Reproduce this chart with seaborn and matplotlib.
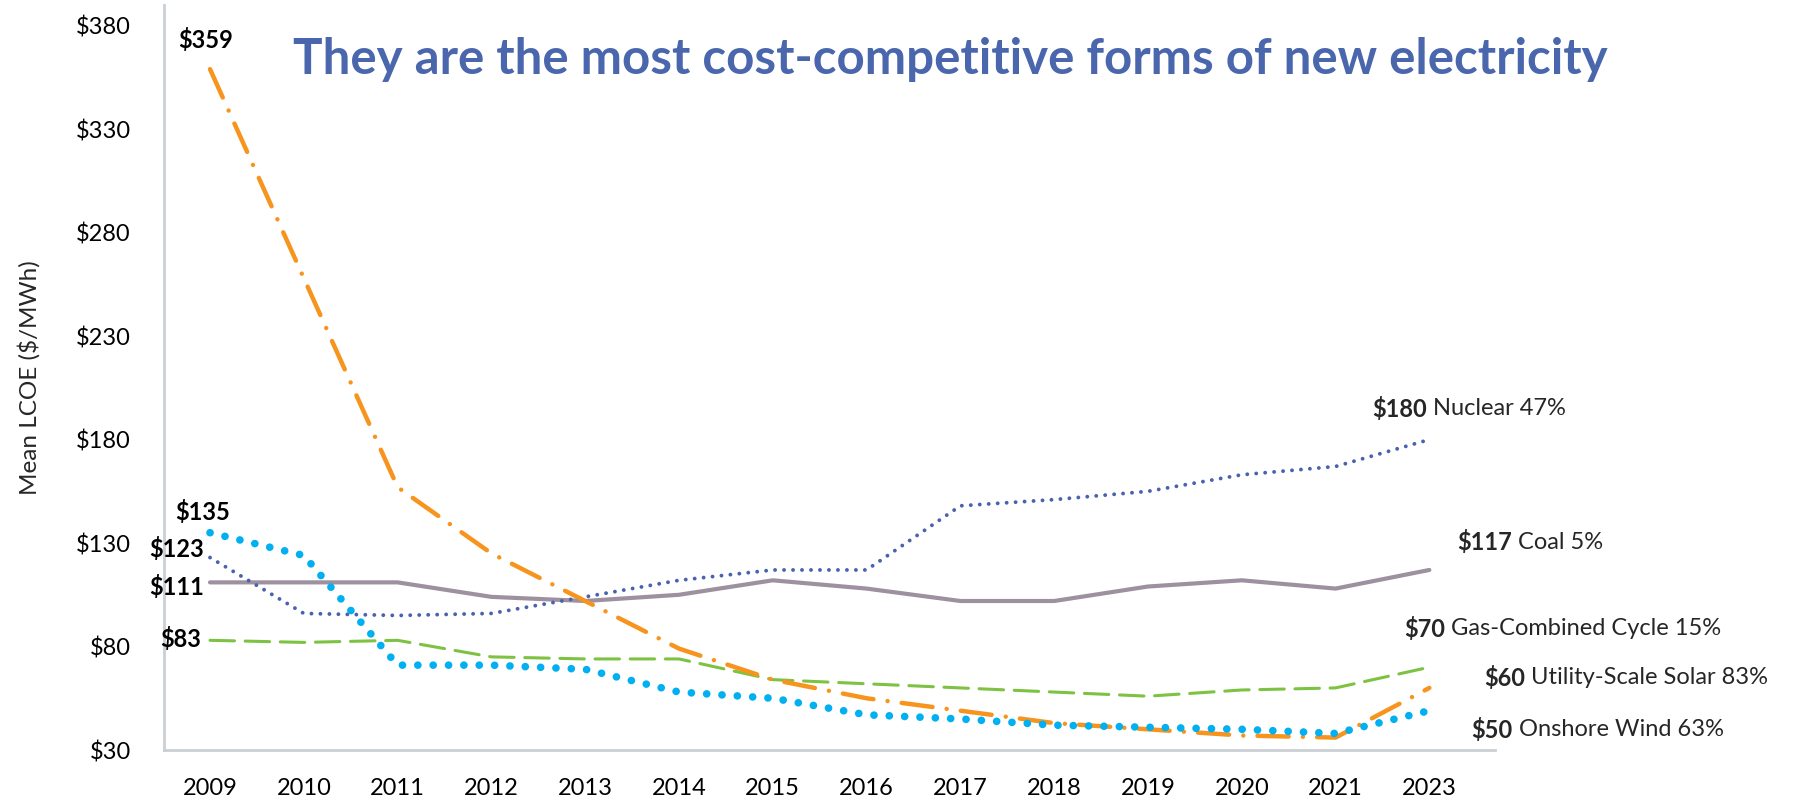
import matplotlib
matplotlib.use("Agg")
import matplotlib.pyplot as plt
import seaborn as sns
import pandas as pd

# ── data (mean LCOE, $/MWh) ────────────────────────────────────────────────────
years = ["2009", "2010", "2011", "2012", "2013", "2014", "2015",
         "2016", "2017", "2018", "2019", "2020", "2021", "2023"]
nuclear = [123, 96, 95, 96, 104, 112, 117, 117, 148, 151, 155, 163, 167, 180]
coal = [111, 111, 111, 104, 102, 105, 112, 108, 102, 102, 109, 112, 108, 117]
gas = [83, 82, 83, 75, 74, 74, 64, 62, 60, 58, 56, 59, 60, 70]
solar = [359, 258, 157, 125, 102, 79, 64, 55, 49, 43, 40, 37, 36, 60]
wind = [135, 124, 71, 71, 69, 58, 55, 47, 45, 42, 41, 40, 38, 49]

y_ticks = [30, 80, 130, 180, 230, 280, 330, 380]

TITLE = "They are the most cost-competitive forms of new electricity"

sns.set_theme(style="white")
plt.rcParams["font.family"] = ["Lato", "DejaVu Sans"]

fig = plt.figure(figsize=(17.93, 8), dpi=100)
ax = fig.add_axes([0.0915, 0.0625, 0.7423, 0.93125])

df = pd.DataFrame({"year": years, "Nuclear": nuclear, "Coal": coal,
                   "Gas": gas, "Solar": solar, "Wind": wind})

styles = [
    ("Coal", "#9d91a0", 3.0, "-", 2),
    ("Gas", "#7dc242", 2.2, (0, (8, 3.5)), 3),
    ("Nuclear", "#4a62ae", 2.8, (0, (0.01, 2.3)), 4),
    ("Solar", "#f7941d", 3.2, (0, (7, 3.2, 0.01, 3.2)), 5),
    ("Wind", "#00b0f0", 5.5, (0, (0.01, 2.0)), 6),
]
for col, color, lw, ls, z in styles:
    sns.lineplot(data=df, x="year", y=col, ax=ax, color=color, lw=lw,
                 linestyle=ls, dash_capstyle="round", solid_capstyle="round",
                 sort=False, zorder=z)

ax.set_xlim(-0.49, 13.7)
ax.set_ylim(30, 390)
ax.set_yticks(y_ticks)
ax.set_yticklabels([f"${v}" for v in y_ticks])
ax.set_xlabel("")
ax.set_ylabel("Mean LCOE ($/MWh)", fontsize=17.5)
ax.yaxis.set_label_coords(-0.093, 0.5)
ax.tick_params(axis="y", length=0, pad=24, labelsize=17, colors="black")
ax.tick_params(axis="x", length=0, pad=20, labelsize=17, colors="black")

for side in ["top", "right"]:
    ax.spines[side].set_visible(False)
for side in ["left", "bottom"]:
    ax.spines[side].set_color("#c9cfd3")
    ax.spines[side].set_linewidth(2)

# start values
lab = dict(fontsize=17, fontweight="bold", color="black", va="center")
ax.text(-0.05, 373, "$359", ha="center", **lab)
ax.text(-0.08, 145, "$135", ha="center", **lab)
ax.text(-0.06, 127, "$123", ha="right", **lab)
ax.text(-0.06, 108.7, "$111", ha="right", **lab)
ax.text(-0.1, 83.6, "$83", ha="right", **lab)

# end labels: bold value + plain name
end_labels = [
    (12.39, 195, "$180", " Nuclear 47%"),
    (13.3, 130.5, "$117", " Coal 5%"),
    (12.73, 88.5, "$70", " Gas-Combined Cycle 15%"),
    (13.58, 64.8, "$60", " Utility-Scale Solar 83%"),
    (13.45, 39.7, "$50", " Onshore Wind 63%"),
]
for x, y, val, name in end_labels:
    t = ax.text(x, y, val, fontsize=17, fontweight="bold", ha="left",
                va="center", clip_on=False)
    ax.annotate(name, xy=(1, 0.5), xycoords=t, fontsize=17, ha="left",
                va="center", annotation_clip=False)

fig.text(0.53, 0.925, TITLE, ha="center", va="center", fontsize=35.5,
         fontweight="bold", color="#4a66ac")

fig.savefig("out.png", dpi=100)
